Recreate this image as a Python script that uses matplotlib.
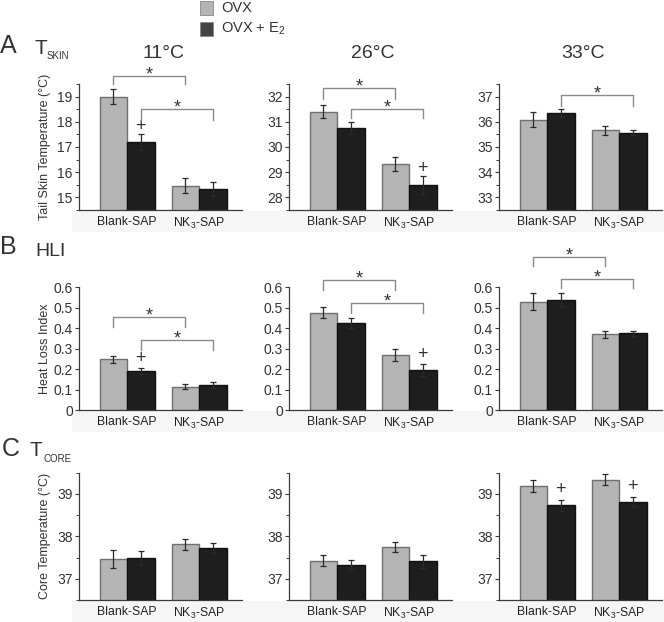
import matplotlib
matplotlib.use("Agg")
import matplotlib.pyplot as plt
from matplotlib.patches import Rectangle
import matplotlib.transforms as mtransforms

plt.rcParams['font.family'] = ['Liberation Sans', 'DejaVu Sans']
plt.rcParams['mathtext.fontset'] = 'custom'
plt.rcParams['mathtext.rm'] = 'Liberation Sans'
plt.rcParams['mathtext.it'] = 'Liberation Sans'
plt.rcParams['mathtext.default'] = 'regular'

# ---------------- data ----------------
groups = ['Blank-SAP', 'NK$_3$-SAP']
temps = ['11°C', '26°C', '33°C']
series_names = ['OVX', 'OVX + E$_2$']

tskin_ovx = [[19.0, 15.46], [31.4, 29.32], [36.09, 35.66]]
tskin_ovx_err = [[0.3, 0.3], [0.25, 0.28], [0.3, 0.18]]
tskin_e2 = [[17.2, 15.32], [30.76, 28.49], [36.34, 35.57]]
tskin_e2_err = [[0.3, 0.28], [0.25, 0.35], [0.15, 0.1]]

hli_ovx = [[0.25, 0.115], [0.475, 0.27], [0.53, 0.371]]
hli_ovx_err = [[0.017, 0.013], [0.027, 0.03], [0.04, 0.017]]
hli_e2 = [[0.192, 0.123], [0.424, 0.197], [0.538, 0.376]]
hli_e2_err = [[0.013, 0.014], [0.024, 0.028], [0.033, 0.012]]

tcore_ovx = [[37.47, 37.81], [37.42, 37.75], [39.18, 39.33]]
tcore_ovx_err = [[0.21, 0.12], [0.13, 0.12], [0.14, 0.13]]
tcore_e2 = [[37.49, 37.73], [37.33, 37.41], [38.73, 38.80]]
tcore_e2_err = [[0.16, 0.12], [0.11, 0.16], [0.13, 0.12]]

# brackets: (series, height, leg drop)
tskin_brackets = [[(0, 19.82, 0.33), (1, 18.52, 0.43)],
                  [(0, 32.36, 0.44), (1, 31.52, 0.35)],
                  [(1, 37.05, 0.43)]]
hli_brackets = [[(0, 0.457, 0.049), (1, 0.343, 0.049)],
                [(0, 0.636, 0.049), (1, 0.522, 0.046)],
                [(0, 0.75, 0.045), (1, 0.64, 0.045)]]
tcore_brackets = [[], [], []]

# plus signs: (series, group, height)
tskin_plus = [[(1, 0, 17.82)], [(1, 1, 29.13)], []]
hli_plus = [[(1, 0, 0.254)], [(1, 1, 0.27)], []]
tcore_plus = [[], [], [(1, 0, 39.10), (1, 1, 39.17)]]

rows = [
    dict(ovx=tskin_ovx, ovx_err=tskin_ovx_err, e2=tskin_e2, e2_err=tskin_e2_err,
         brackets=tskin_brackets, plus=tskin_plus,
         ylims=[(14.5, 19.5), (27.5, 32.5), (32.5, 37.5)],
         ticks=[[15, 16, 17, 18, 19], [28, 29, 30, 31, 32], [33, 34, 35, 36, 37]],
         minor=0.5, fmt='{:g}', ylabel='Tail Skin Temperature (°C)'),
    dict(ovx=hli_ovx, ovx_err=hli_ovx_err, e2=hli_e2, e2_err=hli_e2_err,
         brackets=hli_brackets, plus=hli_plus,
         ylims=[(0, 0.6)] * 3,
         ticks=[[0, 0.1, 0.2, 0.3, 0.4, 0.5, 0.6]] * 3,
         minor=None, fmt='{:g}', ylabel='Heat Loss Index'),
    dict(ovx=tcore_ovx, ovx_err=tcore_ovx_err, e2=tcore_e2, e2_err=tcore_e2_err,
         brackets=tcore_brackets, plus=tcore_plus,
         ylims=[(36.5, 39.5)] * 3,
         ticks=[[37, 38, 39]] * 3,
         minor=0.5, fmt='{:g}', ylabel='Core Temperature (°C)'),
]

# ---------------- layout ----------------
W, H = 664, 622
fig = plt.figure(figsize=(W / 100, H / 100), dpi=100)

col_left = [79, 289, 499]
ax_w = 163
row_tb = [(84, 210), (287.3, 410.3), (472.7, 600)]

gray = '#b4b4b4'
gray_edge = '#707070'
black = '#1e1e1e'
spine_c = '#3a3a3a'
brk_c = '#8a8a8a'
mark_c = '#333333'

bw = 0.382
offs = [-bw / 2, bw / 2]
xlim = (-0.667, 1.597)

# faint band beneath each row of axes
for (top, bot) in row_tb:
    fig.patches.append(Rectangle((72 / W, 1 - (bot + 22) / H), (W - 72) / W, 21 / H,
                                 transform=fig.transFigure, facecolor='#f6f6f6',
                                 edgecolor='none', zorder=-5))

for r, row in enumerate(rows):
    top, bot = row_tb[r]
    for c in range(3):
        ax = fig.add_axes([col_left[c] / W, 1 - bot / H, ax_w / W, (bot - top) / H])
        ax.patch.set_alpha(0)
        x = [0, 1]
        vals = [row['ovx'][c], row['e2'][c]]
        errs = [row['ovx_err'][c], row['e2_err'][c]]
        fcs = [gray, black]
        ecs = [gray_edge, '#111111']
        for s in range(2):
            xs = [xi + offs[s] for xi in x]
            ax.bar(xs, vals[s], width=bw, bottom=0, color=fcs[s], edgecolor=ecs[s],
                   linewidth=1.0, zorder=2)
            ax.errorbar(xs, vals[s], yerr=errs[s], fmt='none', ecolor='#2a2a2a',
                        elinewidth=0.9, capsize=2, capthick=0.9, zorder=3)
        ax.set_xlim(*xlim)
        ax.set_ylim(*row['ylims'][c])
        ax.set_yticks(row['ticks'][c])
        ax.set_yticklabels([row['fmt'].format(t) for t in row['ticks'][c]])
        if row['minor']:
            lo, hi = row['ylims'][c]
            n = int(round((hi - lo) / row['minor']))
            ax.set_yticks([lo + i * row['minor'] for i in range(n + 1)], minor=True)
        ax.set_xticks(x)
        ax.set_xticklabels(groups)
        ax.tick_params(axis='x', length=0, pad=4, labelsize=8.8, labelcolor='#222222')
        ax.tick_params(axis='y', which='major', direction='out', length=3, width=0.8,
                       color=spine_c, pad=1.5, labelsize=10, labelcolor='#333333')
        ax.tick_params(axis='y', which='minor', direction='out', length=2, width=0.7,
                       color=spine_c)
        for sp in ['top', 'right']:
            ax.spines[sp].set_visible(False)
        ax.spines['left'].set_color(spine_c)
        ax.spines['bottom'].set_color(spine_c)
        ax.spines['left'].set_linewidth(0.9)
        ax.spines['bottom'].set_linewidth(0.9)

        # brackets
        for (s, yb, drop) in row['brackets'][c]:
            x0 = 0 + offs[s]
            x1 = 1 + offs[s]
            ax.plot([x0, x0, x1, x1], [yb - drop, yb, yb, yb - drop], color=brk_c,
                    lw=1.0, clip_on=False, zorder=4)
            ax.annotate('*', xy=((x0 + x1) / 2, yb), xytext=(0, -2.5),
                        textcoords='offset points', ha='center', va='baseline',
                        fontsize=13, color=mark_c, annotation_clip=False)
        for (s, g, yp) in row['plus'][c]:
            ax.text(g + offs[s], yp, '+', ha='center', va='center', fontsize=13,
                    color=mark_c, clip_on=False)

        if c == 0:
            ax.set_ylabel(row['ylabel'], fontsize=9, color='#333333')
            ax.yaxis.set_label_coords(-0.17, 0.5)
        if r == 0:
            trans = mtransforms.blended_transform_factory(ax.transData, fig.transFigure)
            ax.text(0.5, 1 - 54 / H, temps[c], transform=trans, ha='center',
                    va='center', fontsize=14, color='#333333')

# row labels
def ftext(xp, yp, s, **kw):
    fig.text(xp / W, 1 - yp / H, s, **kw)

ftext(8.5, 46, 'A', ha='center', va='center', fontsize=18, color='#333333')
ftext(41, 48, 'T', ha='center', va='center', fontsize=15, color='#333333')
ftext(47, 56, 'SKIN', ha='left', va='center', fontsize=7, color='#333333')
ftext(8.5, 247, 'B', ha='center', va='center', fontsize=18, color='#333333')
ftext(35, 251, 'HLI', ha='left', va='center', fontsize=14, color='#333333')
ftext(11, 449, 'C', ha='center', va='center', fontsize=18, color='#333333')
ftext(36, 450, 'T', ha='center', va='center', fontsize=15, color='#333333')
ftext(43, 459, 'CORE', ha='left', va='center', fontsize=7, color='#333333')

# legend
leg_cols = [gray, '#444444']
leg_y = [8, 29]
for i in range(2):
    fig.patches.append(Rectangle((200 / W, 1 - (leg_y[i] + 7) / H), 13 / W, 14 / H,
                                 transform=fig.transFigure, facecolor=leg_cols[i],
                                 edgecolor='#888888', linewidth=0.6))
    ftext(221, leg_y[i], series_names[i], ha='left', va='center', fontsize=10.5,
          color='#333333')

fig.savefig('out.png', dpi=100)
